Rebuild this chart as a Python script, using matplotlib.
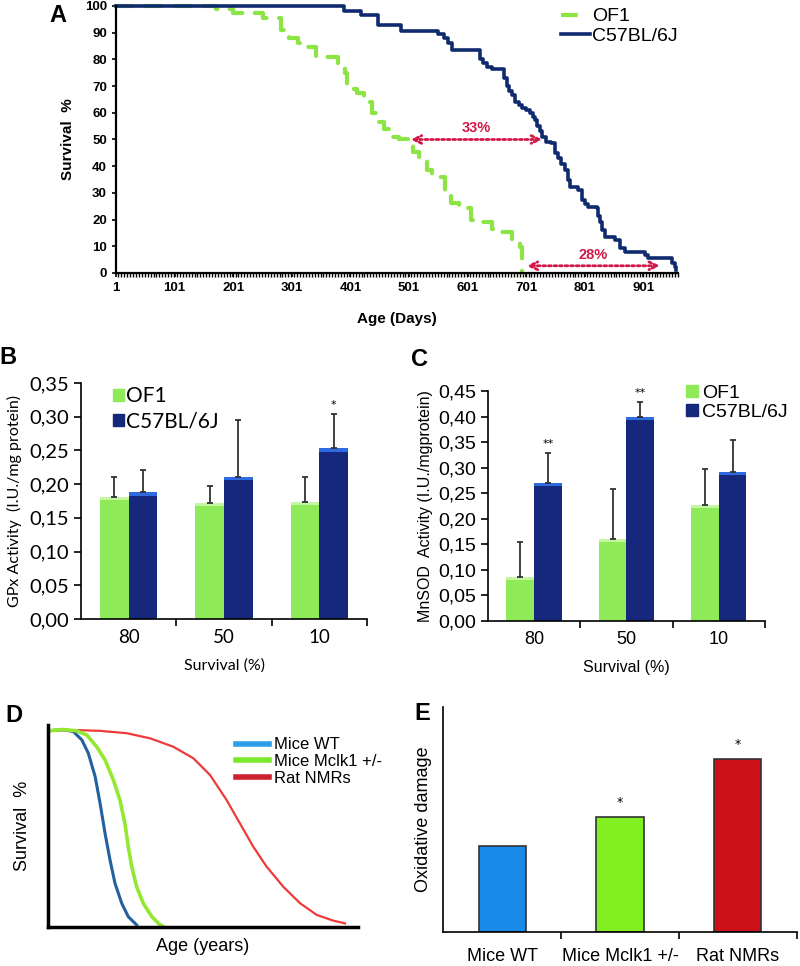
import numpy as np
import matplotlib
matplotlib.use('Agg')
import matplotlib.pyplot as plt
from matplotlib.lines import Line2D
from matplotlib.patches import Patch
from matplotlib.ticker import FuncFormatter, MultipleLocator, FixedLocator

# ---- panel A: survival curves (days, % alive) ----
of1_days = [1, 172, 200, 251, 283, 297, 311, 328, 342, 379, 391, 396, 413, 425, 437, 444, 458,
            472, 484, 507, 518, 532, 540, 563, 572, 586, 606, 620, 643, 660, 677, 691, 693]
of1_surv = [100, 99, 97.5, 95.5, 91, 88, 86, 84.5, 81, 78, 75, 69, 67.5, 64, 60, 56.5, 54,
            51, 50, 45.4, 43.6, 38.6, 36, 31.1, 26.1, 24.2, 19.9, 19.2, 16.4, 15.5, 12.4, 9.9, 0]
c57_days = [1, 390, 419, 448, 487, 551, 560, 568, 575, 622, 627, 634, 643, 663, 668, 672, 676,
            682, 688, 694, 700, 708, 712, 716, 720, 724, 728, 735, 744, 750, 756, 761, 767, 772,
            776, 790, 796, 801, 807, 821, 824, 827, 830, 835, 852, 861, 869, 903, 909, 937, 949,
            955, 957]
c57_surv = [100, 98, 96.5, 92.8, 90.8, 89.5, 88, 86, 83.5, 80, 78.5, 77, 76.3, 73, 70, 68, 66.5,
            64.2, 63, 61.7, 61, 60, 58.5, 57.3, 55, 53, 51, 49, 48.6, 44.8, 43, 41, 38.6, 35,
            32.3, 31.1, 27.3, 26, 24.8, 24.2, 21.5, 19, 16.1, 13.6, 12.4, 9.3, 8, 6.7, 5.5, 5.5, 3.6,
            2.4, 1.1]
age_ticks = [1, 101, 201, 301, 401, 501, 601, 701, 801, 901]
# arrows: (start day, end day, survival level, label)
gap_arrows = [(504, 728, 50, '33%'), (702, 929, 2.7, '28%')]

# ---- panels B and C: enzyme activity ----
survival_groups = ['80', '50', '10']
gpx_of1 = [0.181, 0.172, 0.174]
gpx_of1_err = [0.030, 0.025, 0.036]
gpx_c57 = [0.188, 0.211, 0.253]
gpx_c57_err = [0.033, 0.084, 0.051]
gpx_stars = ['', '', '*']
sod_of1 = [0.087, 0.161, 0.227]
sod_of1_err = [0.068, 0.097, 0.070]
sod_c57 = [0.270, 0.400, 0.291]
sod_c57_err = [0.059, 0.029, 0.064]
sod_stars = ['**', '**', '']

# ---- panel D: schematic survival ----
wt_x = [0, 4.9, 8.2, 10.9, 13.0, 15.2, 16.8, 18.4, 20.0, 21.6, 23.8, 25.9, 28.6]
wt_y = [100, 100.7, 99.6, 95.4, 88.6, 76.7, 63.0, 47.7, 34.1, 22.2, 11.9, 5.1, 0.9]
mclk_x = [0, 4.9, 9.3, 12.5, 15.7, 18.4, 21.1, 23.2, 24.8, 25.9, 27.0, 28.6, 30.7, 33.5, 35.6, 37.2]
mclk_y = [100, 100.7, 100, 97.9, 91.9, 85.2, 74.9, 64.7, 52.8, 40.9, 30.7, 20.4, 12.0, 5.1, 1.7, 0]
nmr_x = [0, 9.3, 16.8, 25.4, 32.9, 40.4, 46.9, 52.3, 57.6, 61.9, 66.2, 70.5, 75.9, 81.3, 86.7, 92.0, 95.8]
nmr_y = [100, 100.4, 100, 98.8, 96.2, 91.9, 86.0, 77.4, 64.7, 52.8, 40.9, 30.7, 20.4, 12.0, 6.0, 3.1, 1.7]

# ---- panel E: oxidative damage ----
species = ['Mice WT', 'Mice Mclk1 +/-', 'Rat NMRs']
damage = [38.1, 51.1, 76.6]
damage_stars = ['', '*', '*']

GREEN = '#8fea5a'
GREEN_TOP = '#c4f7a2'
NAVY = '#16287c'
NAVY_TOP = '#2f6be0'
ARROW = '#d21848'

fig = plt.figure(figsize=(8, 9.66), dpi=100)

# ================= A =================
axA = fig.add_axes([0.145, 0.7174, 0.7025, 0.2764])
axA.step(of1_days, of1_surv, where='post', color='#8de545', lw=3, dashes=(4, 3), clip_on=False,
         dash_capstyle='round', dash_joinstyle='round')
axA.step(c57_days, c57_surv, where='post', color='#0f2a6e', lw=2.6, clip_on=False)
axA.set_xlim(1, 960)
axA.set_ylim(0, 100)
for s in ['top', 'right']:
    axA.spines[s].set_visible(False)
for s in ['left', 'bottom']:
    axA.spines[s].set_linewidth(1.6)
axA.set_xticks(age_ticks)
axA.xaxis.set_minor_locator(MultipleLocator(5))
axA.set_yticks(range(0, 101, 10))
axA.tick_params(axis='both', which='major', direction='out', length=3, width=1.2, labelsize=9.5)
axA.tick_params(axis='x', which='minor', direction='out', length=3, width=1.0)
for lbl in axA.get_xticklabels() + axA.get_yticklabels():
    lbl.set_fontweight('bold')
    lbl.set_fontfamily('Liberation Sans')
axA.set_xlabel('Age (Days)', fontsize=11, fontweight='bold', family='Liberation Sans', labelpad=13)
axA.set_ylabel('Survival  %', fontsize=11, fontweight='bold', family='Liberation Sans', labelpad=7)
for x0, x1, lev, txt in gap_arrows:
    axA.annotate('', xy=(x0, lev), xytext=(x1, lev),
                 arrowprops=dict(arrowstyle='<->', color=ARROW, lw=2, linestyle=(0, (1, 1)),
                                 mutation_scale=14, shrinkA=0, shrinkB=0))
    axA.text((x0 + x1) / 2, lev + 1.5, txt, color=ARROW, fontsize=10.5, ha='center', va='bottom',
             family='Liberation Sans', fontweight='bold')
handlesA = [Line2D([], [], color='#8de545', lw=3, dashes=(4, 3)),
            Line2D([], [], color='#0f2a6e', lw=2.6)]
axA.legend(handlesA, ['OF1', 'C57BL/6J'], loc='upper left', bbox_to_anchor=(0.775, 1.03),
           frameon=False, handlelength=1.5, handletextpad=0.1, labelspacing=0.1, borderpad=0,
           prop={'family': 'Liberation Sans', 'size': 14})


def activity_panel(ax, of1, of1_err, c57, c57_err, stars, ymax, strip, font, tick_fs):
    x = np.arange(len(survival_groups))
    w = 0.3
    ax.bar(x - w / 2, of1, w, color=GREEN)
    ax.bar(x + w / 2, c57, w, color=NAVY)
    ax.bar(x - w / 2, strip, w, bottom=np.array(of1) - strip, color=GREEN_TOP)
    ax.bar(x + w / 2, strip, w, bottom=np.array(c57) - strip, color=NAVY_TOP)
    ax.errorbar(x - w / 2, of1, yerr=[np.zeros(3), of1_err], fmt='none', ecolor='#333333',
                elinewidth=1.3, capsize=2.5, capthick=1.3)
    ax.errorbar(x + w / 2, c57, yerr=[np.zeros(3), c57_err], fmt='none', ecolor='#333333',
                elinewidth=1.3, capsize=2.5, capthick=1.3)
    for xi, v, e, st in zip(x, c57, c57_err, stars):
        if st:
            ax.text(xi + w / 2, v + e + ymax * 0.04, st, ha='center', va='center', fontsize=8,
                    clip_on=False)
    ax.set_xlim(-0.5, 2.5)
    ax.set_ylim(0, ymax)
    for s in ['top', 'right']:
        ax.spines[s].set_visible(False)
    for s in ['left', 'bottom']:
        ax.spines[s].set_linewidth(1.2)
    ax.xaxis.set_major_locator(FixedLocator([0.5, 1.5, 2.5]))
    ax.xaxis.set_minor_locator(FixedLocator(x))
    ax.set_xticklabels([], minor=False)
    ax.set_xticklabels(survival_groups, minor=True, family=font, fontsize=tick_fs - 1)
    ax.tick_params(axis='x', which='major', direction='out', length=5, width=1.2)
    ax.tick_params(axis='x', which='minor', length=0, pad=7)
    ax.set_yticks(np.arange(0, ymax + 1e-6, 0.05))
    ax.yaxis.set_major_formatter(FuncFormatter(lambda v, p: f'{v:.2f}'.replace('.', ',')))
    ax.tick_params(axis='y', direction='out', length=5, width=1.2, labelsize=tick_fs)
    for lbl in ax.get_yticklabels():
        lbl.set_fontfamily(font)
    ax.set_xlabel('Survival (%)', family=font, fontsize=11.5, labelpad=9)


# ================= B =================
axB = fig.add_axes([0.101, 0.3592, 0.358, 0.2443])
activity_panel(axB, gpx_of1, gpx_of1_err, gpx_c57, gpx_c57_err, gpx_stars, 0.35, 0.005, 'Lato', 14.5)
axB.set_ylabel('GPx Activity  (I.U./mg protein)', family='Lato', fontsize=11.5, labelpad=5)
axB.legend([Patch(color=GREEN), Patch(color=NAVY)], ['OF1', 'C57BL/6J'], loc='upper left',
           bbox_to_anchor=(0.075, 1.03), frameon=False, handlelength=0.55, handleheight=0.55,
           handletextpad=0.1, labelspacing=0.25, borderpad=0, prop={'family': 'Lato', 'size': 15})

# ================= C =================
axC = fig.add_axes([0.61, 0.3571, 0.346, 0.2381])
activity_panel(axC, sod_of1, sod_of1_err, sod_c57, sod_c57_err, sod_stars, 0.45, 0.006,
               'Liberation Sans', 14)
axC.set_ylabel('MnSOD  Activity (I.U./mgprotein)', family='Liberation Sans', fontsize=11.5,
               labelpad=4)
axC.legend([Patch(color=GREEN), Patch(color=NAVY)], ['OF1', 'C57BL/6J'], loc='upper left',
           bbox_to_anchor=(0.68, 1.07), frameon=False, handlelength=0.6, handleheight=0.6,
           handletextpad=0.25, labelspacing=0.1, borderpad=0,
           prop={'family': 'Liberation Sans', 'size': 14})

# ================= D =================
axD = fig.add_axes([0.06, 0.0407, 0.3875, 0.2088])
axD.plot(nmr_x, nmr_y, color='#ee3a3a', lw=1.6)
axD.plot(wt_x, wt_y, color='#24609f', lw=2.2)
axD.plot(mclk_x, mclk_y, color='#94e832', lw=2.6)
axD.set_xlim(0, 100)
axD.set_ylim(0, 103)
for s in ['top', 'right']:
    axD.spines[s].set_visible(False)
for s in ['left', 'bottom']:
    axD.spines[s].set_linewidth(2.5)
axD.set_xticks([])
axD.set_yticks([])
axD.set_xlabel('Age (years)', family='Liberation Sans', fontsize=13, labelpad=8)
axD.set_ylabel('Survival  %', family='Liberation Sans', fontsize=13, labelpad=12)
handlesD = [Line2D([], [], color='#2a9ce8', lw=4), Line2D([], [], color='#7ee82c', lw=4),
            Line2D([], [], color='#cf2030', lw=4)]
axD.legend(handlesD, ['Mice WT', 'Mice Mclk1 +/-', 'Rat NMRs'], loc='upper left',
           bbox_to_anchor=(0.58, 0.98), frameon=False, handlelength=1.95, handletextpad=0.3,
           labelspacing=0.1, borderpad=0, prop={'family': 'Liberation Sans', 'size': 12})

# ================= E =================
axE = fig.add_axes([0.554, 0.0355, 0.442, 0.2329])
xe = np.arange(len(species))
axE.bar(xe, damage, 0.4, color=['#1a8ae8', '#80f020', '#cc1118'], edgecolor='#333333', lw=1.2)
for xi, v, st in zip(xe, damage, damage_stars):
    if st:
        axE.text(xi, v + 6.5, st, ha='center', va='center', fontsize=9)
axE.set_xlim(-0.5, 2.5)
axE.set_ylim(0, 100)
for s in ['top', 'right']:
    axE.spines[s].set_visible(False)
for s in ['left', 'bottom']:
    axE.spines[s].set_linewidth(1.2)
axE.set_yticks([])
axE.xaxis.set_major_locator(FixedLocator([0.5, 1.5, 2.5]))
axE.xaxis.set_minor_locator(FixedLocator(xe))
axE.set_xticklabels([], minor=False)
axE.set_xticklabels(species, minor=True, family='Liberation Sans', fontsize=13)
axE.tick_params(axis='x', which='major', direction='out', length=5, width=1.2)
axE.tick_params(axis='x', which='minor', length=0, pad=12)
axE.set_ylabel('Oxidative damage', family='Liberation Sans', fontsize=13, labelpad=8)

# panel letters
for letter, px, py in [('A', 58, 15), ('B', 8, 358), ('C', 420, 360), ('D', 14, 715), ('E', 422, 713)]:
    fig.text(px / 800, 1 - py / 966, letter, fontsize=17, fontweight='bold',
             family='Liberation Sans', ha='center', va='center')

fig.savefig('out.png', dpi=100)
